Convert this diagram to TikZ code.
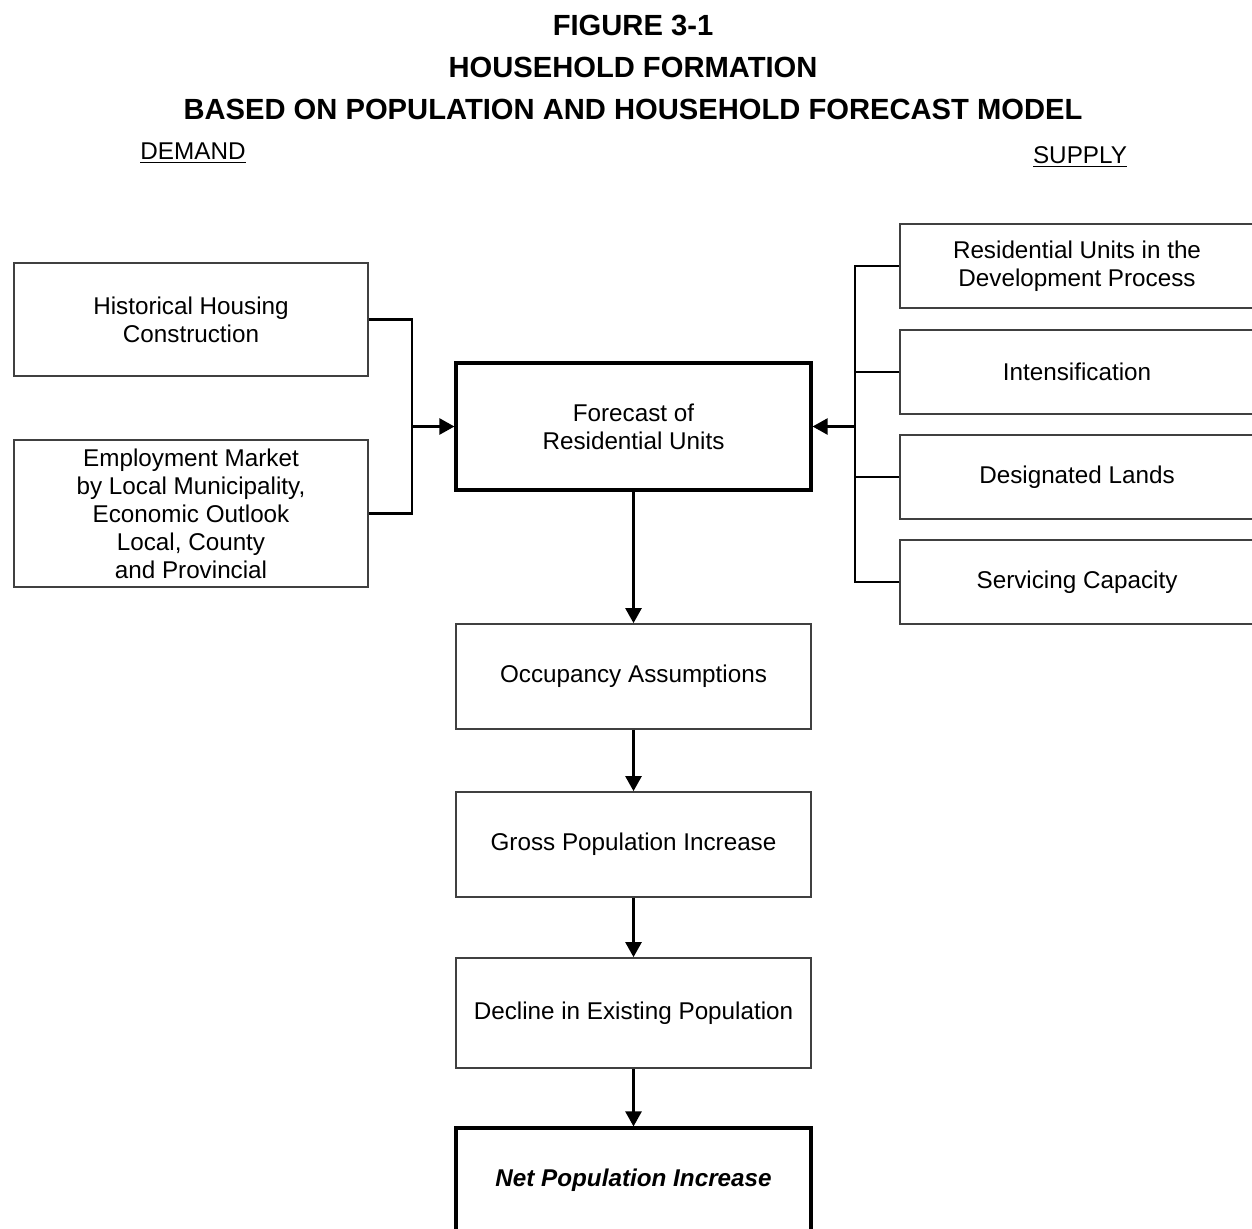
\documentclass[tikz,border=0pt]{standalone}
\usepackage{fontspec}
\setmainfont{Liberation Sans}
\usepackage{xcolor}
\definecolor{ink}{HTML}{000000}
\definecolor{edgegray}{HTML}{404040}
\usetikzlibrary{positioning,arrows.meta}

\begin{document}
\begin{tikzpicture}[
  font=\fontsize{13.8}{15.9}\selectfont,
  stage/.style={draw=edgegray, line width=1pt, fill=white, align=center,
                minimum width=7.08cm, inner sep=2pt},
  keystage/.style={stage, draw=ink, line width=1.8pt},
  factor/.style={stage, minimum height=1.68cm},
  heading/.style={font=\fontsize{16.6}{23.8}\selectfont\bfseries, align=center},
  side/.style={inner sep=0pt},
  link/.style={-{Triangle[length=0.30cm, width=0.32cm]}, ink, line width=1.4pt},
  bus/.style={ink, line width=1.4pt}
]
  \useasboundingbox (0,0) rectangle (25.04,-24.56);
  \clip (0,0) rectangle (25.04,-24.56);

  % headings
  \node[heading] (t1) at (12.66,-0.50) {FIGURE 3-1};
  \node[heading] (t2) at (12.66,-1.34) {HOUSEHOLD FORMATION};
  \node[heading] (t3) at (12.66,-2.18) {BASED ON POPULATION AND HOUSEHOLD FORECAST MODEL};
  \node[side] (demand) at (3.86,-3.06) {\underline{DEMAND}};
  \node[side] (supply) at (21.60,-3.14) {\underline{SUPPLY}};

  % demand side
  \node[stage, minimum height=2.26cm] (hist) at (3.82,-6.39)
        {Historical Housing\\Construction};
  \node[stage, minimum height=2.94cm] (empl) at (3.82,-10.27)
        {Employment Market\\by Local Municipality,\\Economic Outlook\\Local, County\\and Provincial};

  % main chain
  \node[keystage, minimum width=7.10cm, minimum height=2.54cm] (fcst) at (12.67,-8.53)
        {Forecast of\\Residential Units};
  \node[stage, minimum width=7.10cm, minimum height=2.10cm] (occ) at (12.67,-13.53)
        {Occupancy Assumptions};
  \node[stage, minimum width=7.10cm, minimum height=2.10cm] (gross) at (12.67,-16.89)
        {Gross Population Increase};
  \node[stage, minimum width=7.10cm, minimum height=2.20cm] (decl) at (12.67,-20.26)
        {Decline in Existing Population};
  \node[keystage, minimum width=7.10cm, minimum height=2.08cm] (net) at (12.67,-23.60)
        {\bfseries\itshape Net Population Increase};

  % supply side
  \node[factor] (devp) at (21.54,-5.32) {Residential Units in the\\Development Process};
  \node[factor] (intens) at (21.54,-7.44) {Intensification};
  \node[factor] (lands) at (21.54,-9.54) {Designated Lands};
  \node[factor] (serv) at (21.54,-11.64) {Servicing Capacity};

  \coordinate (lbus) at (8.24,-8.53);
  \coordinate (rbus) at (17.10,-8.53);

  \draw[bus] (hist.east) -| (lbus) |- (empl.east);
  \draw[link] (lbus) -- (fcst.west);

  \draw[bus] (devp.west) -| (rbus);
  \draw[bus] (serv.west) -| (rbus);
  \draw[bus] (intens.west) -- (intens.west -| rbus);
  \draw[bus] (lands.west) -- (lands.west -| rbus);
  \draw[link] (rbus) -- (fcst.east);

  \draw[link] (fcst) -- (occ);
  \draw[link] (occ) -- (gross);
  \draw[link] (gross) -- (decl);
  \draw[link] (decl) -- (net);
\end{tikzpicture}
\end{document}
